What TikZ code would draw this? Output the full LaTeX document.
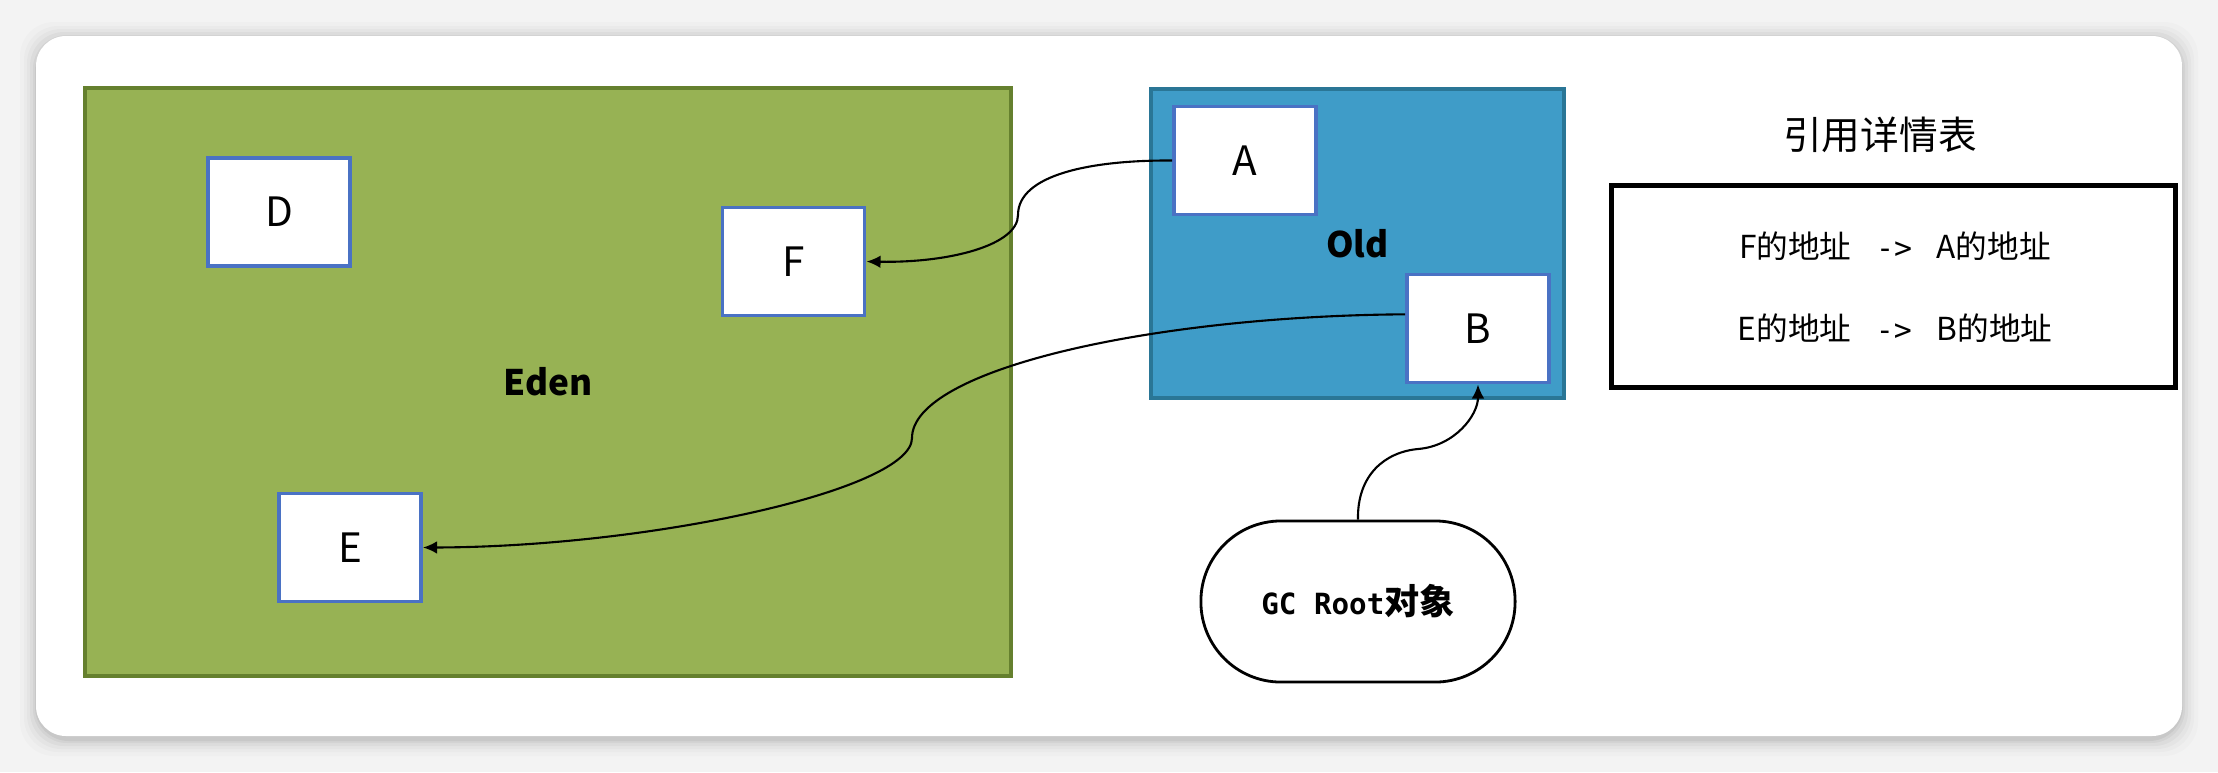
\documentclass[tikz,border=0pt]{standalone}
\usepackage{fontspec}
\setmainfont{Noto Sans CJK SC}
\newfontfamily\mono{DejaVu Sans Mono}
\usetikzlibrary{arrows.meta}
\definecolor{edenfill}{HTML}{97B254}
\definecolor{edenline}{HTML}{65802E}
\definecolor{oldfill}{HTML}{3F9CC8}
\definecolor{oldline}{HTML}{2A7696}
\definecolor{boxblue}{HTML}{4A72C4}
\definecolor{pagebg}{HTML}{F3F3F3}
\tikzset{
  region/.style={rectangle, line width=1.1pt, font=\bfseries\fontsize{10}{12}\selectfont},
  obj/.style={rectangle, draw=boxblue, line width=1.1pt, fill=white,
    minimum width=1.42cm, minimum height=1.08cm, inner sep=0pt,
    font=\fontsize{11.5}{13}\selectfont},
  conn/.style={line width=0.6pt, -{Latex[length=4pt,width=3.6pt]}},
  tabtext/.style={inner sep=0pt, font=\fontsize{9}{11}\selectfont},
}
\newcommand{\arr}{\hspace{7pt}{\mono\fontsize{8.5}{11}\selectfont ->}\hspace{7pt}}
\begin{document}
\begin{tikzpicture}[x=0.01cm,y=-0.01cm]
\useasboundingbox (0,0) rectangle (2218,772);
\fill[pagebg] (0,0) rectangle (2218,772);
% card shadow
\foreach \d/\o in {16/0.015,12/0.02,9/0.025,6/0.03,3/0.04,1/0.05}
  \fill[black,opacity=\o,rounded corners=0.34cm] (36-\d,38-\d) rectangle (2182+\d,740+\d);
\fill[white,rounded corners=0.3cm] (36,36) rectangle (2182,736);

% regions
\node[region, fill=edenfill, draw=edenline, minimum width=9.26cm, minimum height=5.88cm] (eden) at (548,382) {Eden};
\node[region, fill=oldfill, draw=oldline, minimum width=4.13cm, minimum height=3.09cm] (old) at (1357.5,243.5) {Old};

% objects
\node[obj] (D) at (279,212) {D};
\node[obj] (F) at (793.5,261.5) {F};
\node[obj] (E) at (350,547.5) {E};
\node[obj] (A) at (1245,160.5) {A};
\node[obj] (B) at (1478,328.5) {B};

% GC root
\node[draw, line width=0.8pt, fill=white, rounded corners=0.8cm,
  minimum width=3.14cm, minimum height=1.61cm, inner sep=0pt] (gc) at (1358,601.5)
  {\bfseries{\mono\fontsize{8.3}{11}\selectfont GC Root}{\fontsize{10}{12}\selectfont 对象}};

% reference table
\node[inner sep=0pt, font=\fontsize{11}{13}\selectfont] (title) at (1880,135) {引用详情表};
\node[draw, line width=1.4pt, minimum width=5.63cm, minimum height=2.01cm] (tbl) at (1893.5,286.5) {};
\node[tabtext] (r1) at (1895,246) {F的地址\arr A的地址};
\node[tabtext] (r2) at (1895,328) {E的地址\arr B的地址};

% connectors
\coordinate (m1) at (1018,215);
\coordinate (m2) at (912,438);
\coordinate (m3) at (1418,449);
\draw[conn] (A.west) .. controls (1090,160) and (1018,175) .. (m1)
  .. controls (1018,245) and (950,263) .. (F.east);
\draw[conn] (B.169) .. controls (1150,316) and (912,370) .. (m2)
  .. controls (912,490) and (650,547) .. (E.east);
\draw[conn] (gc.north) .. controls (1357,475) and (1385,452) .. (m3)
  .. controls (1455,446) and (1478,415) .. (B.south);
\end{tikzpicture}
\end{document}
